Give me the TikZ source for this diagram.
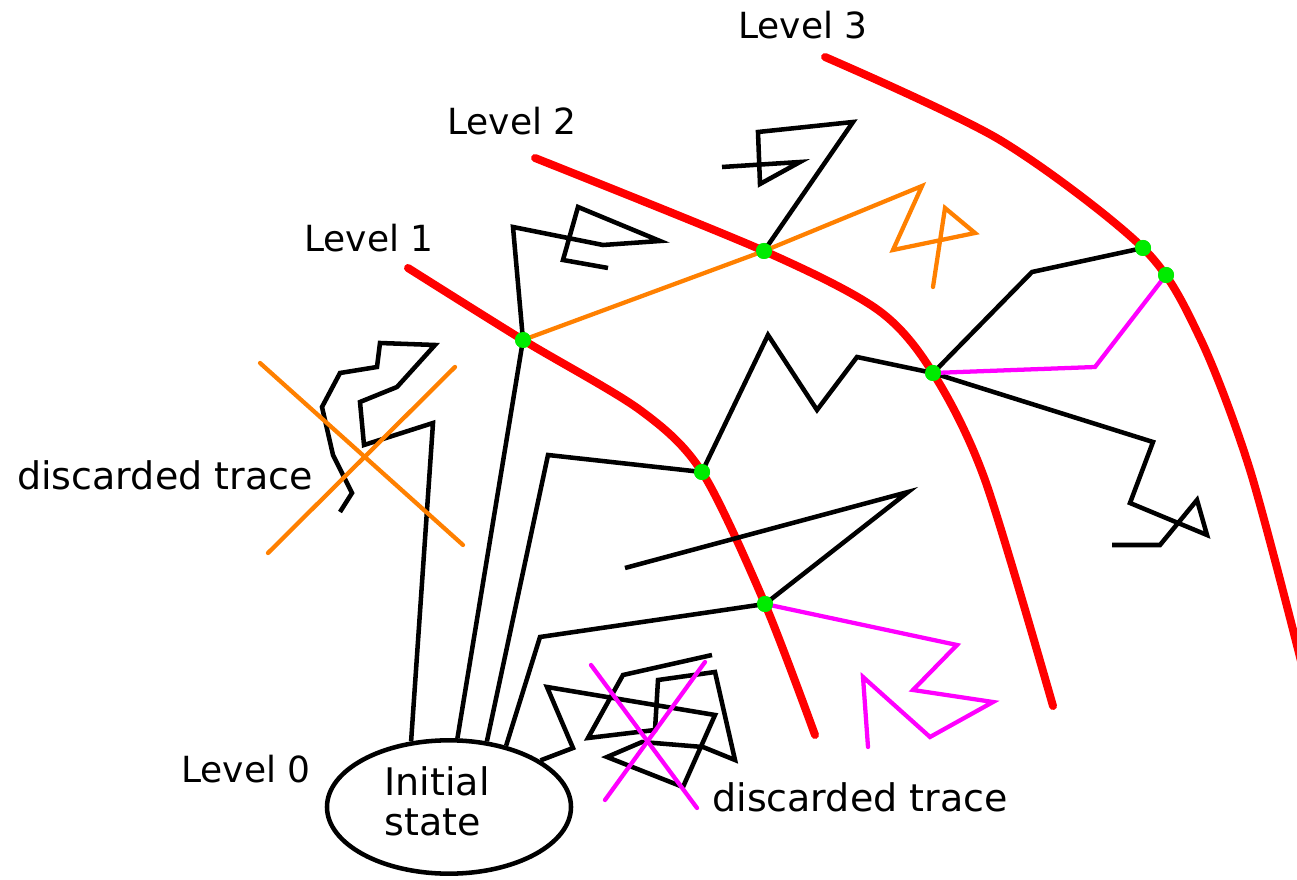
\documentclass[tikz,border=0pt]{standalone}
\usepackage{fontspec}
\setmainfont{DejaVu Sans}
\usetikzlibrary{shapes.geometric}
\definecolor{lvlred}{RGB}{255,0,0}
\definecolor{dotgreen}{RGB}{0,235,0}
\definecolor{trorange}{RGB}{255,128,0}
\definecolor{trmagenta}{RGB}{255,0,255}
\begin{document}
\begin{tikzpicture}[x=0.75pt,y=-0.75pt,
  level/.style={draw=lvlred,line width=6pt,line cap=round,line join=round},
  trace/.style={draw=black,line width=3.4pt,line join=miter},
  otrace/.style={draw=trorange,line width=3.2pt,line cap=round},
  mtrace/.style={draw=trmagenta,line width=3.2pt,line cap=round},
  hit/.style={circle,fill=dotgreen,inner sep=0pt,minimum size=12pt},
  lbl/.style={font=\fontsize{27}{30}\selectfont,inner sep=0pt},
  dlbl/.style={font=\fontsize{28.5}{30}\selectfont,inner sep=0pt},
]
\fill[white] (0,0) rectangle (1297,880);
\useasboundingbox (0,0) rectangle (1297,880);

% level boundaries
\draw[level] plot[smooth,tension=0.5] coordinates {(408,268) (523,340) (640,410) (702,472) (765,604) (815,735)};
\draw[level] plot[smooth,tension=0.5] coordinates {(535,158) (764,251) (878,310) (933,373) (985,480) (1053,706)};
\draw[level] plot[smooth,tension=0.5] coordinates {(825,57) (1000,140) (1143,248) (1200,338) (1250,470) (1302,665)};

% level labels
\node[lbl] (lv3) at (803,25) {Level 3};
\node[lbl] (lv2) at (512,121) {Level 2};
\node[lbl] (lv1) at (369,238) {Level 1};
\node[lbl] (lv0) at (246,769) {Level 0};
\node[dlbl] (dis1) at (165,475) {discarded trace};
\node[dlbl] (dis2) at (860,797) {discarded trace};

% initial state
\node[draw,line width=3.4pt,ellipse,fill=white,minimum width=183pt,minimum height=100pt,inner sep=0pt] (init) at (449,807) {};
\node[dlbl,align=left] (initlbl) at (437,801) {Initial\\state};

% crossing points
\node[hit] (a1) at (523,340) {};
\node[hit] (b1) at (702,472) {};
\node[hit] (c1) at (765,604) {};
\node[hit] (a2) at (764,251) {};
\node[hit] (b2) at (933,373) {};
\node[hit] (a3) at (1143,248) {};
\node[hit] (b3) at (1166,275) {};

% traces
\draw[trace] (init.120) -- (433,423) -- (364,445) -- (360,402) -- (397,387) -- (435,345) -- (380,343) -- (377,367) -- (340,373) -- (322,407) -- (333,455) -- (352,493) -- (340,512);
\draw[trace] (init.83) -- (a1.center) -- (513,227) -- (603,245) -- (660,241) -- (578,207) -- (563,260) -- (608,268);
\draw[trace] (a2.center) -- (853,122) -- (758,132) -- (760,184) -- (800,162) -- (722,167);
\draw[trace] (init.60) -- (548,455) -- (b1.center) -- (768,335) -- (817,410) -- (857,357) -- (b2.center) -- (1032,272) -- (a3.center);
\draw[trace] (b2.center) -- (1153,442) -- (1130,503) -- (1207,535) -- (1197,500) -- (1160,545) -- (1112,545);
\draw[trace] (init.47) -- (540,637) -- (c1.center) -- (908,492) -- (625,568);
\draw[trace] (init.27) -- (573,748) -- (547,687) -- (715,715) -- (683,787) -- (607,757) -- (642,742) -- (703,747) -- (735,760) -- (715,672) -- (658,680) -- (655,730) -- (588,738) -- (623,675) -- (712,655);

\draw[otrace] (a1.center) -- (a2.center) -- (922,186) -- (893,250) -- (975,233) -- (945,208) -- (933,287);
\draw[mtrace] (b2.center) -- (1095,367) -- (b3.center);
\draw[mtrace] (c1.center) -- (957,645) -- (913,690) -- (993,702) -- (930,737) -- (863,677) -- (868,747);

% discarded marks
\draw[otrace] (260,363) -- (463,545);
\draw[otrace] (455,367) -- (268,553);
\draw[mtrace] (591,665) -- (697,808);
\draw[mtrace] (705,662) -- (605,800);

% crossing points drawn over the traces
\foreach \p in {a1,b1,c1,a2,b2,a3,b3}
  \fill[dotgreen] (\p.center) circle (6pt);
\end{tikzpicture}
\end{document}
